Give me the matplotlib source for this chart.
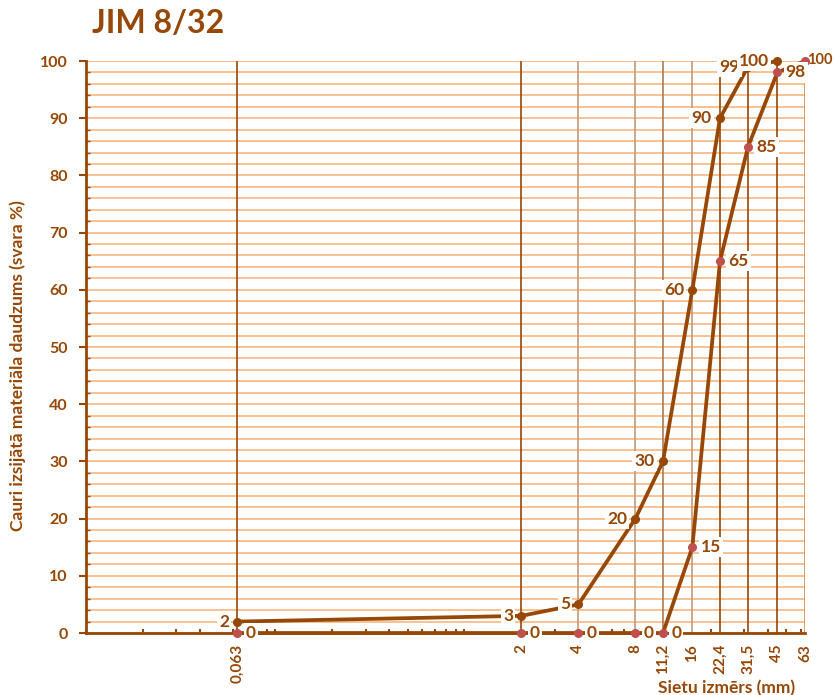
import matplotlib

matplotlib.use("Agg")
import matplotlib.pyplot as plt
from matplotlib.ticker import FixedLocator, LogLocator, MultipleLocator, NullFormatter

BROWN = "#974706"
GRID = "#FAC090"
RED = "#C0504D"

# sietu izmēri (mm) un tiem atbilstošās etiķetes
sieves = [0.063, 2, 4, 8, 11.2, 16, 22.4, 31.5, 45, 63]
sieve_labels = ["0,063", "2", "4", "8", "11,2", "16", "22,4", "31,5", "45", "63"]

# augšējā līkne
upper_x = [0.063, 2, 4, 8, 11.2, 16, 22.4, 31.5, 45]
upper_y = [2, 3, 5, 20, 30, 60, 90, 99, 100]

# apakšējā līkne
lower_x = [0.063, 2, 4, 8, 11.2, 16, 22.4, 31.5, 45, 63]
lower_y = [0, 0, 0, 0, 0, 15, 65, 85, 98, 100]

plt.rcParams["font.family"] = ["Lato", "DejaVu Sans"]
plt.rcParams["font.weight"] = "bold"

fig = plt.figure(figsize=(8.34, 6.95), dpi=100)
ax = fig.add_axes([0.1031, 0.0892, 0.8621, 0.8230])

ax.set_xscale("log")
ax.set_xlim(0.01, 63)
ax.set_ylim(0, 100)

# horizontālās palīglīnijas ik pa 2
ax.yaxis.set_major_locator(MultipleLocator(10))
ax.yaxis.set_minor_locator(MultipleLocator(2))
ax.grid(axis="y", which="both", color=GRID, linewidth=1.4, zorder=0)

# vertikālās līnijas pie sietiem
vcols = [BROWN, BROWN, "#C49A78", "#C49A78", "#B07A50", "#C49A78",
         BROWN, BROWN, BROWN, "#D98A4A"]
for xv, c in zip(sieves, vcols):
    ax.axvline(xv, color=c, linewidth=1.2, zorder=2)

ax.plot(upper_x, upper_y, color=BROWN, linewidth=2.7, marker="o",
        markersize=5.5, markerfacecolor=BROWN, markeredgecolor=BROWN,
        zorder=4, clip_on=False)
ax.plot(lower_x, lower_y, color=BROWN, linewidth=2.7, marker="o",
        markersize=5.5, markerfacecolor=RED, markeredgecolor=RED,
        zorder=4, clip_on=False)

box = dict(facecolor="white", edgecolor="none", pad=1.5)
for xv, yv in zip(upper_x, upper_y):
    ax.annotate(str(yv), (xv, yv), xytext=(-6, 0), textcoords="offset points",
                ha="right", va="center", fontsize=12.5, fontweight="bold",
                color=BROWN, bbox=box, zorder=5, annotation_clip=False)
for i, (xv, yv) in enumerate(zip(lower_x, lower_y)):
    last = i == len(lower_x) - 1
    ax.annotate(str(yv), (xv, yv), xytext=(1.5 if last else 6, 1 if last else 0),
                textcoords="offset points", ha="left", va="center",
                fontsize=10.5 if last else 12.5, fontweight="bold",
                color=BROWN, bbox=None if last else box, zorder=5,
                annotation_clip=False)

# x ass
ax.xaxis.set_major_locator(FixedLocator(sieves))
ax.set_xticklabels(sieve_labels, rotation=90)
ax.xaxis.set_minor_locator(LogLocator(base=10, subs=range(1, 10)))
ax.xaxis.set_minor_formatter(NullFormatter())
ax.tick_params(axis="x", which="major", length=0, pad=8,
               labelsize=11, labelcolor=BROWN)
ax.tick_params(axis="x", which="minor", direction="in", length=3,
               width=1.5, color=BROWN)

# y ass
ax.tick_params(axis="y", which="major", direction="out", length=5,
               width=1.5, color=BROWN, labelsize=11.5, labelcolor=BROWN, pad=8)
ax.tick_params(axis="y", which="minor", direction="in", length=3,
               width=1, color=BROWN)

for side in ("top", "right"):
    ax.spines[side].set_visible(False)
for side in ("left", "bottom"):
    ax.spines[side].set_color(BROWN)
    ax.spines[side].set_linewidth(2)
    ax.spines[side].set_zorder(3)

ax.set_xlabel("Sietu izmērs (mm)", fontsize=12.5, fontweight="bold",
              color=BROWN, ha="right")
ax.xaxis.set_label_coords(0.986, -0.082)
ax.set_ylabel("Cauri izsijātā materiāla daudzums (svara %)", fontsize=12.5,
              fontweight="bold", color=BROWN)
ax.yaxis.set_label_coords(-0.083, 0.467)

fig.text(0.110, 0.9655, "JIM 8/32", fontsize=23, fontweight="bold",
         color=BROWN, ha="left", va="center")

fig.savefig("out.png", dpi=100)
